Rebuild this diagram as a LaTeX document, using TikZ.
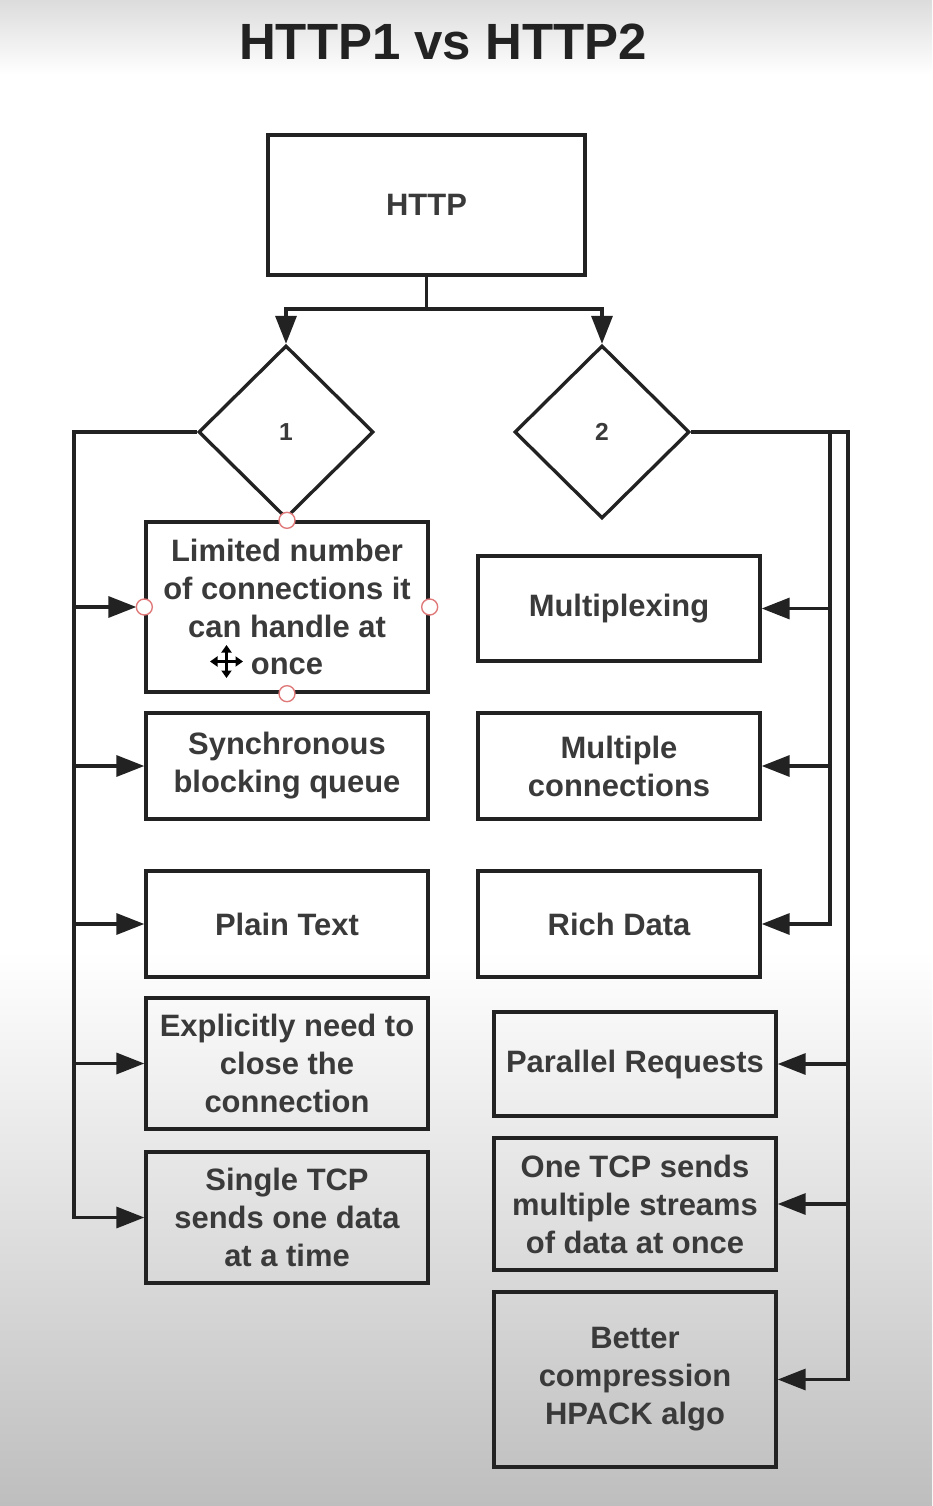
\documentclass[tikz,border=0pt]{standalone}
\usepackage{fontspec}
\setmainfont{Liberation Sans}
\usetikzlibrary{shapes.geometric, arrows.meta}
\definecolor{NiceBlack}{HTML}{222222}
\definecolor{TitleBlack}{HTML}{222222}
\definecolor{LabelGray}{HTML}{3A3A3A}
\definecolor{HandleRed}{HTML}{E07A7A}
\definecolor{BackTop}{HTML}{DCDCDC}
\definecolor{BackBottom}{HTML}{BEBEBE}

\tikzset{
  box/.style={draw=NiceBlack, line width=1.9pt, minimum width=5.64cm,
    inner sep=2pt, align=center, text=LabelGray,
    font=\fontsize{17.6}{21.6}\selectfont\bfseries},
  decision/.style={diamond, draw=NiceBlack, line width=1.9pt,
    minimum width=3.5cm, minimum height=3.46cm, inner sep=0pt,
    text=LabelGray, font=\fontsize{14}{16}\selectfont\bfseries},
  wire/.style={draw=NiceBlack, line width=1.9pt},
  conn/.style={wire, -{Triangle[length=0.56cm, width=0.42cm]}},
  handle/.style={circle, draw=HandleRed, fill=white, line width=0.8pt,
    minimum size=0.32cm, inner sep=0pt},
}

\begin{document}
\begin{tikzpicture}
  \useasboundingbox (0,0) rectangle (18.64,-30.12);
  % Background
  \fill[white] (0,0) rectangle (18.64,-30.12);
  \shade[top color=BackTop, bottom color=white] (0,0) rectangle (18.64,-1.5);
  \shade[top color=white, bottom color=BackBottom] (0,-19) rectangle (18.64,-30.12);

  \node[font=\fontsize{29}{35}\selectfont\bfseries, text=TitleBlack] (title)
    at (8.86,-0.84) {HTTP1 vs HTTP2};

  % Root and versions
  \node[box, minimum width=6.34cm, minimum height=2.8cm] (http) at (8.53,-4.10) {HTTP};
  \node[decision] (one) at (5.72,-8.64) {1};
  \node[decision] (two) at (12.04,-8.64) {2};

  % HTTP1 column
  \node[box, minimum height=3.4cm] (limited) at (5.74,-12.14)
    {Limited number\\of connections it\\can handle at\\once};
  \node[box, minimum height=2.12cm] (sync) at (5.74,-15.32) {Synchronous\\blocking queue};
  \node[box, minimum height=2.12cm] (plain) at (5.74,-18.48) {Plain Text};
  \node[box, minimum height=2.62cm] (close) at (5.74,-21.27)
    {Explicitly need to\\close the\\connection};
  \node[box, minimum height=2.62cm] (single) at (5.74,-24.35)
    {Single TCP\\sends one data\\at a time};

  % HTTP2 column
  \node[box, minimum height=2.1cm] (mux) at (12.38,-12.17) {Multiplexing};
  \node[box, minimum height=2.12cm] (multi) at (12.38,-15.32) {Multiple\\connections};
  \node[box, minimum height=2.12cm] (rich) at (12.38,-18.48) {Rich Data};
  \node[box, minimum height=2.08cm] (parallel) at (12.70,-21.28) {Parallel Requests};
  \node[box, minimum height=2.64cm] (streams) at (12.70,-24.08)
    {One TCP sends\\multiple streams\\of data at once};
  \node[box, minimum height=3.5cm] (hpack) at (12.70,-27.59)
    {Better\\compression\\HPACK algo};

  % Split below HTTP
  \coordinate (split) at (8.53,-6.18);
  \draw[wire] (http.south) -- (split);
  \draw[conn] (split) -| (one.north);
  \draw[conn] (split) -| (two.north);

  % Left bus
  \coordinate (busL) at (1.48,-8.64);
  \draw[conn] (one.west) -- (busL) |- (single.west);
  \draw[conn, shorten >=0.16cm] (busL |- limited.west) -- (limited.west);
  \foreach \n in {sync,plain,close}
    \draw[conn] (busL |- \n.west) -- (\n.west);

  % Right buses
  \coordinate (busA) at (16.6,-8.64);
  \coordinate (busB) at (16.96,-8.64);
  \draw[conn] (two.east) -- (busB) |- (hpack.east);
  \draw[conn] (busA) |- (rich.east);
  \foreach \n in {mux,multi}
    \draw[conn] (busA |- \n.east) -- (\n.east);
  \foreach \n in {parallel,streams}
    \draw[conn] (busB |- \n.east) -- (\n.east);

  % Selection handles and move cursor
  \foreach \a in {north,west,east,south}
    \node[handle] (h-\a) at (limited.\a) {};
  \coordinate (cursor) at (4.53,-13.23);
  \draw[line width=1.2pt, {Triangle[length=0.15cm, width=0.2cm]}-{Triangle[length=0.15cm, width=0.2cm]}]
    ([xshift=-0.33cm]cursor) -- ([xshift=0.33cm]cursor);
  \draw[line width=1.2pt, {Triangle[length=0.15cm, width=0.2cm]}-{Triangle[length=0.15cm, width=0.2cm]}]
    ([yshift=-0.33cm]cursor) -- ([yshift=0.33cm]cursor);
\end{tikzpicture}
\end{document}
